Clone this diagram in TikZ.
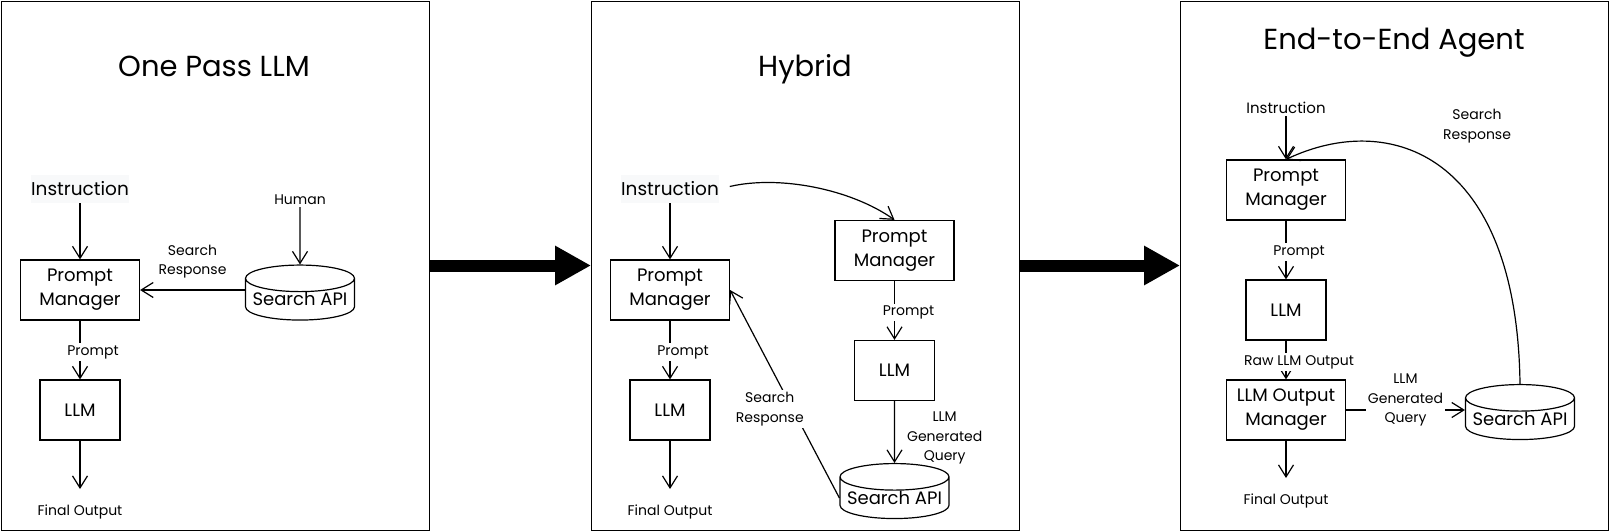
\documentclass[tikz,border=0pt]{standalone}
\usepackage{fontspec}
\setmainfont{Poppins}
\usetikzlibrary{arrows.meta,shapes.geometric}
\definecolor{instrbg}{HTML}{F8F9FA}

\tikzset{
    % panels and titles
    panel/.style={draw=black, line width=0.9pt, minimum width=428pt, minimum height=529pt, inner sep=0pt},
    title/.style={anchor=base, font=\fontsize{29}{34}\selectfont},
    % blocks
    box/.style={draw=black, line width=1.2pt, font=\fontsize{18}{24}\selectfont, align=center, inner sep=0pt},
    pmbox/.style={box, minimum width=119pt, minimum height=60pt},
    llmbox/.style={box, minimum width=80pt, minimum height=60pt},
    db/.style={cylinder, shape border rotate=90, aspect=0.28, draw=black, line width=1.2pt,
        minimum width=109pt, minimum height=55pt, inner sep=0pt, font=\fontsize{18}{20}\selectfont},
    instr/.style={fill=instrbg, minimum width=96pt, minimum height=28pt, inner sep=0pt, font=\fontsize{18.5}{20}\selectfont},
    % labels
    lbl/.style={font=\fontsize{14}{19.5}\selectfont, align=center, inner sep=2pt},
    outlbl/.style={lbl, anchor=north, inner ysep=16pt},
    % connectors
    arr/.style={line width=1.2pt, -{Straight Barb[length=12pt,width=15pt]}},
    bigarrow/.style={line width=12pt, -{Triangle[length=36pt,width=37pt]}}
}

\begin{document}
\begin{tikzpicture}[x=1pt, y=1pt]
    \useasboundingbox (0,0) rectangle (1611,-532);

    % the three panels
    \node[panel] (p1) at (215,-265.5) {};
    \node[panel] (p2) at (805.5,-265.5) {};
    \node[panel] (p3) at (1394.5,-265.5) {};
    \draw[bigarrow] (p1.east) -- (p2.west);
    \draw[bigarrow] (p2.east) -- (p3.west);

    \node[title] (t1) at (214,-77) {One Pass LLM};
    \node[title] (t2) at (805,-77) {Hybrid};
    \node[title] (t3) at (1394,-50) {End-to-End Agent};

    % One Pass LLM
    \node[instr] (in1) at (80,-189) {Instruction};
    \node[pmbox] (pm1) at (80,-290) {Prompt\\Manager};
    \node[llmbox] (llm1) at (80,-410) {LLM};
    \node[outlbl] (out1) at (80,-489) {Final Output};
    \node[db] (api1) at (300,-299.5) {\raisebox{-6pt}[0pt][0pt]{Search API}};
    \node[lbl] (hum1) at (300,-200) {Human};
    \draw[arr] (in1) -- (pm1);
    \draw[arr] (pm1) -- node[lbl, fill=white, xshift=13pt, yshift=-2pt] {Prompt} (llm1);
    \draw[arr] (llm1) -- (out1);
    \draw[arr] (hum1) -- (api1);
    \draw[arr] (api1.west |- pm1.east) -- node[lbl, above=9pt] {Search\\Response} (pm1.east);

    % Hybrid
    \node[instr] (in2) at (670,-189) {Instruction};
    \node[pmbox] (pm2a) at (670,-290) {Prompt\\Manager};
    \node[llmbox] (llm2a) at (670,-410) {LLM};
    \node[outlbl] (out2) at (670,-489) {Final Output};
    \node[pmbox] (pm2b) at (894.5,-250.5) {Prompt\\Manager};
    \node[llmbox] (llm2b) at (894.5,-370.5) {LLM};
    \node[db] (api2) at (894.5,-498) {\raisebox{-6pt}[0pt][0pt]{Search API}};
    \draw[arr] (in2) -- (pm2a);
    \draw[arr] (pm2a) -- node[lbl, fill=white, xshift=13pt, yshift=-2pt] {Prompt} (llm2a);
    \draw[arr] (llm2a) -- (out2);
    \draw[arr, shorten <=11pt] (in2.east) .. controls +(60,14) and +(-44,31) .. (pm2b.north);
    \draw[arr] (pm2b) -- node[lbl, fill=white, xshift=14pt, yshift=-2pt] {Prompt} (llm2b);
    \draw[arr] (llm2b) -- node[lbl, right=10pt, yshift=-6pt] {LLM\\Generated\\Query} (api2);
    \draw[arr] (api2.west) -- node[lbl, fill=white, xshift=-15pt, yshift=-15pt] {Search\\Response} (pm2a.east);

    % End-to-End Agent
    \node[lbl, font=\fontsize{15}{17}\selectfont] (in3) at (1286,-108) {Instruction};
    \node[pmbox] (pm3) at (1286,-190) {Prompt\\Manager};
    \node[llmbox] (llm3) at (1286,-310) {LLM};
    \node[pmbox] (lom3) at (1286,-410) {LLM Output\\Manager};
    \node[outlbl] (out3) at (1286,-478) {Final Output};
    \node[db] (api3) at (1520,-419) {\raisebox{-6pt}[0pt][0pt]{Search API}};
    \node[lbl] (sr3) at (1477,-126) {Search\\Response};
    \draw[arr] (in3) -- (pm3);
    \draw[arr] (pm3) -- node[lbl, fill=white, xshift=13pt, yshift=-2pt] {Prompt} (llm3);
    \draw[arr] (llm3) -- node[lbl, fill=white, xshift=13pt, yshift=-2pt] {Raw LLM Output} (lom3);
    \draw[arr] (lom3) -- (out3);
    \draw[arr] (lom3.east) -- node[lbl, fill=white, yshift=10pt] {LLM\\Generated\\Query} (lom3.east -| api3.west);
    \draw[arr] (api3.north) .. controls +(-3,230) and +(104,49) .. (pm3.north);
\end{tikzpicture}
\end{document}
